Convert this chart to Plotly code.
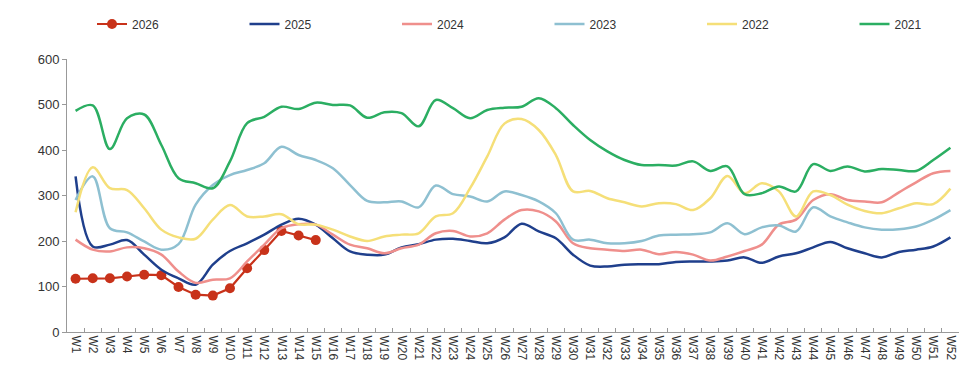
import plotly.graph_objects as go

weeks = [f"W{i}" for i in range(1, 53)]

y2026 = [117, 118, 118, 122, 126, 125, 99, 82, 80, 96, 140, 180, 222, 212, 202]

y2025 = [342, 188, 192, 202, 170, 137, 118, 104, 148, 178, 195, 214, 236, 249, 236, 206, 177, 170,
         170, 186, 193, 203, 205, 200, 195, 208, 238, 221, 206, 170, 146, 144, 148, 149, 149, 154,
         155, 155, 157, 164, 152, 166, 173, 186, 198, 184, 173, 164, 176, 181, 188, 208]

y2024 = [203, 181, 177, 186, 184, 170, 133, 108, 115, 118, 155, 192, 228, 237, 236, 214, 192, 184,
         173, 184, 192, 217, 222, 210, 217, 247, 268, 265, 243, 195, 184, 181, 178, 181, 171, 176,
         170, 157, 166, 178, 192, 236, 247, 290, 303, 290, 287, 285, 307, 329, 349, 354]

y2023 = [290, 342, 228, 219, 199, 181, 193, 280, 323, 345, 356, 371, 407, 389, 378, 360, 323, 288,
         285, 287, 274, 322, 303, 298, 287, 309, 301, 287, 261, 203, 203, 195, 195, 200, 212, 214,
         215, 219, 239, 215, 230, 234, 221, 274, 254, 241, 230, 225, 226, 232, 247, 268]

y2022 = [263, 362, 316, 312, 272, 225, 208, 205, 247, 279, 254, 254, 259, 237, 236, 225, 210, 200,
         210, 214, 217, 254, 261, 316, 386, 458, 468, 444, 389, 309, 310, 294, 285, 276, 283, 281,
         268, 294, 343, 305, 327, 309, 254, 309, 301, 280, 266, 261, 272, 283, 281, 315]

y2021 = [486, 498, 402, 470, 478, 411, 338, 327, 316, 375, 459, 473, 495, 490, 504, 499, 498, 471,
         483, 481, 452, 510, 492, 470, 488, 493, 495, 514, 492, 455, 422, 397, 378, 367, 367, 366,
         375, 354, 364, 303, 305, 320, 309, 369, 354, 364, 353, 358, 356, 354, 378, 405]

series = [
    ("2026", y2026, "#C8321A"),
    ("2025", y2025, "#1F3F8C"),
    ("2024", y2024, "#EF8F8C"),
    ("2023", y2023, "#8EC0D1"),
    ("2022", y2022, "#F5DF78"),
    ("2021", y2021, "#2BAE62"),
]

W, H = 978, 365
fig = go.Figure()
legend_layout = {}
for k, (name, vals, color) in enumerate(series):
    lg = "legend" if k == 0 else f"legend{k + 1}"
    if name == "2026":
        fig.add_trace(go.Scatter(
            x=weeks[:len(vals)], y=vals, name=name, mode="lines+markers",
            line=dict(color=color, width=2.2),
            marker=dict(color=color, size=10), legend=lg,
        ))
    else:
        fig.add_trace(go.Scatter(
            x=weeks[:len(vals)], y=vals, name=name, mode="lines",
            line=dict(color=color, width=2.5, shape="spline", smoothing=1.0),
            legend=lg,
        ))
    legend_layout[lg] = dict(
        xref="container", yref="container",
        x=(84 + 152.5 * k) / W, y=1 - 16 / H, xanchor="left", yanchor="middle",
        orientation="h", itemwidth=30, bgcolor="rgba(0,0,0,0)",
        font=dict(size=12, color="#333333", family="Liberation Sans, Arial, sans-serif"),
    )

fig.update_layout(
    width=W, height=H,
    margin=dict(l=59, r=27, t=51, b=41, autoexpand=False),
    paper_bgcolor="white", plot_bgcolor="white",
    font=dict(family="Liberation Sans, Arial, sans-serif", color="#333333", size=12),
    showlegend=True,
    xaxis=dict(
        type="category", categoryorder="array", categoryarray=weeks,
        range=[-0.5, 51.5], showgrid=False, showline=True, linecolor="#999999",
        linewidth=1, ticks="inside", ticklen=4, tickcolor="#999999",
        tickson="boundaries", tickangle=90, tickfont=dict(size=12, color="#333333"),
        zeroline=False,
    ),
    yaxis=dict(
        range=[0, 600], dtick=100, showgrid=False, showline=True,
        linecolor="#999999", linewidth=1, ticks="outside", ticklen=4,
        tickcolor="#999999", tickfont=dict(size=13, color="#333333"),
        zeroline=False,
    ),
    **legend_layout,
)

fig.write_html("out.html")
